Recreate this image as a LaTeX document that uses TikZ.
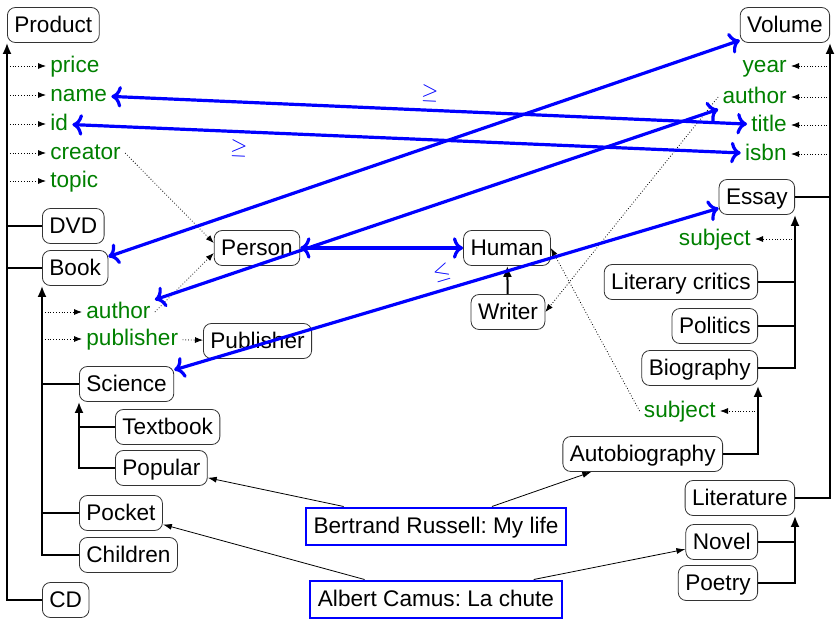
\documentclass[tikz,border=0pt]{standalone}
\usepackage{fontspec}
\setmainfont{Liberation Sans}
\usepackage{tikz}
\usetikzlibrary{arrows.meta}
\frenchspacing

\begin{document}
\begin{tikzpicture}[x=0.5pt,y=-0.5pt,font=\fontsize{11.3}{14}\selectfont,
  box/.style={draw=black!80, rounded corners=4pt, inner xsep=3.5pt, inner ysep=0pt, text height=9.2pt, text depth=1.7pt, minimum height=17.5pt},
  book/.style={draw=blue, line width=1pt, inner xsep=4pt, inner ysep=0pt, text height=9.2pt, text depth=1.7pt, minimum height=18.5pt},
  attr/.style={text=green!50!black, inner xsep=2pt, inner ysep=0.5pt, text height=8.8pt, text depth=2.1pt},
  tree/.style={line width=1pt},
  isa/.style={line width=1pt, -{Latex[length=5.5pt,width=4.5pt]}},
  has/.style={densely dotted, -{Latex[length=4pt,width=3pt]}},
  same/.style={blue, line width=1.6pt, <->},
  inst/.style={-{Latex[length=4.5pt,width=3pt]}}]
 \useasboundingbox (0,0) rectangle (837,622);
 \node[box, anchor=west] (Product) at (7,25) {Product};
 \node[box, anchor=west] (DVD) at (42,226) {DVD};
 \node[box, anchor=west] (Book) at (42,268) {Book};
 \node[box, anchor=west] (Publisher) at (203,341) {Publisher};
 \node[box, anchor=west] (Science) at (79,384) {Science};
 \node[box, anchor=west] (Textbook) at (115,427) {Textbook};
 \node[box, anchor=west] (Popular) at (115,468) {Popular};
 \node[box, anchor=west] (Pocket) at (79,513) {Pocket};
 \node[box, anchor=west] (Children) at (79,555) {Children};
 \node[box, anchor=west] (CD) at (42,600) {CD};
 \node[box] (Person) at (257,248) {Person};
 \node[box] (Human) at (507,248) {Human};
 \node[box] (Writer) at (508,312) {Writer};
 \node[box, anchor=east] (Volume) at (830,25) {Volume};
 \node[box, anchor=east] (Essay) at (795,197) {Essay};
 \node[box, anchor=east] (Critics) at (758,282) {Literary critics};
 \node[box, anchor=east] (Politics) at (758,326) {Politics};
 \node[box, anchor=east] (Biography) at (758,368) {Biography};
 \node[box, anchor=east] (Autobiography) at (723,454) {Autobiography};
 \node[box, anchor=east] (Literature) at (795,498) {Literature};
 \node[box, anchor=east] (Novel) at (758,542) {Novel};
 \node[box, anchor=east] (Poetry) at (758,583) {Poetry};
 \node[book] (Russell) at (436,526) {Bertrand Russell: My life};
 \node[book] (Camus) at (436,599) {Albert Camus: La chute};
 \foreach \a/\y in {price/66, name/95, id/124, creator/153, topic/181}
   \node[attr, anchor=west] (\a) at (46,\y) {\a};
 \foreach \a/\atext/\y in {bauthor/author/312, publisher/publisher/339}
   \node[attr, anchor=west] (\a) at (82,\y) {\atext};
 \foreach \a/\atext/\y in {year/year/66, vauthor/author/97, title/title/125, isbn/isbn/154}
   \node[attr, anchor=east] (\a) at (791,\y) {\atext};
 \node[attr, anchor=east] (esubject) at (755,239) {subject};
 \node[attr, anchor=east] (bsubject) at (720,411) {subject};
 \draw[isa] (CD.west) -| (Product.south west);
 \foreach \c in {DVD,Book} \draw[tree] (\c.west) -- (\c.west -| Product.south west);
 \draw[isa] (Children.west) -| (Book.south west);
 \foreach \c in {Science,Pocket} \draw[tree] (\c.west) -- (\c.west -| Book.south west);
 \draw[isa] (Popular.west) -| (Science.south west);
 \draw[tree] (Textbook.west) -- (Textbook.west -| Science.south west);
 \draw[isa] (Literature.east) -| (Volume.south east);
 \draw[tree] (Essay.east) -- (Essay.east -| Volume.south east);
 \draw[isa] (Biography.east) -| (Essay.south east);
 \foreach \c in {Critics,Politics} \draw[tree] (\c.east) -- (\c.east -| Essay.south east);
 \draw[isa] (Autobiography.east) -| (Biography.south east);
 \draw[isa] (Poetry.east) -| (Literature.south east);
 \draw[tree] (Novel.east) -- (Novel.east -| Literature.south east);
 \draw[isa] (Writer) -- (Human);
 \foreach \a in {price,name,id,creator,topic} \draw[has] (\a -| Product.south west) -- (\a);
 \foreach \a in {bauthor,publisher} \draw[has] (\a -| Book.south west) -- (\a);
 \foreach \a in {year,vauthor,title,isbn} \draw[has] (\a -| Volume.south east) -- (\a);
 \draw[has] (esubject -| Essay.south east) -- (esubject);
 \draw[has] (bsubject -| Biography.south east) -- (bsubject);
 \draw[has] (publisher) -- (Publisher);
 \draw[has] (creator.east) -- ([yshift=2.5pt]Person.west);
 \draw[has] (bauthor.east) -- ([yshift=-2.5pt]Person.west);
 \draw[has] (vauthor.west) -- (Writer.east);
 \draw[has] (bsubject.west) -- (Human.east);
 \draw[inst] (Russell) -- (Popular);
 \draw[inst] (Russell) -- (Autobiography);
 \draw[inst] (Camus) -- (Pocket);
 \draw[inst] (Camus) -- (Novel);
 \draw[same] (name) -- node[midway, above, sloped] {$\geq$} (title);
 \draw[same] (id) -- node[pos=0.25, below, sloped] {$\geq$} (isbn);
 \draw[same] (Book) -- (Volume);
 \draw[same] (bauthor) -- (vauthor);
 \draw[same] (Person) -- (Human);
 \draw[same] (Science) -- node[midway, above, sloped] {$\leq$} (Essay);
\end{tikzpicture}
\end{document}
